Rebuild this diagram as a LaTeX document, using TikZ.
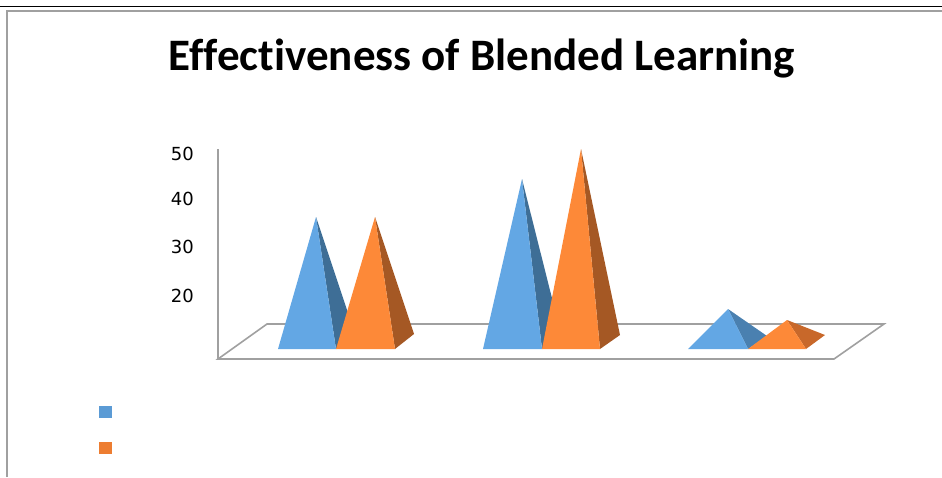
\documentclass[tikz,border=0pt]{standalone}
\usepackage{fontspec}
\setmainfont[Ligatures=NoCommon]{Carlito}
\newfontfamily\axisfont{DejaVu Sans}
\usetikzlibrary{positioning}

\definecolor{blueFront}{HTML}{63A7E4}
\definecolor{blueSide}{HTML}{3E6E96}
\definecolor{blueSideLow}{HTML}{4A80B0}
\definecolor{orangeFront}{HTML}{FD8938}
\definecolor{orangeSide}{HTML}{A55824}
\definecolor{orangeSideLow}{HTML}{C8682A}
\definecolor{legendBlue}{HTML}{5B9BD5}
\definecolor{legendOrange}{HTML}{ED7D31}
\definecolor{axisGray}{HTML}{A0A0A0}

\begin{document}
\begin{tikzpicture}[
        x=1pt,
        y=-1pt,
        frame/.style={
                draw=axisGray,
                line width=1.2pt
            },
        floor/.style={
                draw=axisGray,
                line width=1.6pt,
                line join=miter
            },
        tick/.style={
                font=\axisfont\fontsize{18}{18}\selectfont,
                anchor=east,
                inner sep=0pt
            },
        title/.style={
                font=\bfseries\fontsize{45}{48}\selectfont,
                anchor=base,
                inner sep=0pt
            },
        key/.style={
                rectangle,
                minimum width=13pt,
                minimum height=12pt,
                inner sep=0pt
            }
    ]
    \useasboundingbox (0,0) rectangle (942,477);
    \draw[black, line width=1pt] (0,6) -- (942,6);
    \draw[frame] (7,477) -- (7,11) -- (942,11);

    \node[title] (chartTitle) at (482,70) {Effectiveness of Blended Learning};

    \coordinate (axisTop) at (218,149);
    \coordinate (floorFrontLeft) at (218,359);
    \coordinate (floorBackLeft) at (267,324);
    \coordinate (floorBackRight) at (884,324);
    \coordinate (floorFrontRight) at (834,359);
    \draw[floor] (axisTop) -- (floorFrontLeft);
    \draw[floor] (floorFrontLeft) -- (floorFrontRight) -- (floorBackRight) -- (floorBackLeft) -- cycle;

    \node[tick] (tickFifty) at (194,154) {50};
    \node[tick] (tickForty) at (194,199) {40};
    \node[tick] (tickThirty) at (194,247) {30};
    \node[tick] (tickTwenty) at (194,296) {20};

    \fill[blueSide] (316,217) -- (336,349) -- (355,334) -- cycle;
    \fill[blueFront] (316,217) -- (278,349) -- (336,349) -- cycle;
    \fill[orangeSide] (375,217) -- (395,349) -- (414,334) -- cycle;
    \fill[orangeFront] (375,217) -- (336,349) -- (395,349) -- cycle;

    \fill[blueSide] (522,179) -- (542,349) -- (561,334) -- cycle;
    \fill[blueFront] (522,179) -- (483,349) -- (542,349) -- cycle;
    \fill[orangeSide] (581,149) -- (600,349) -- (620,335) -- cycle;
    \fill[orangeFront] (581,149) -- (542,349) -- (600,349) -- cycle;

    \fill[blueSideLow] (728,309) -- (748,349) -- (767,336) -- cycle;
    \fill[blueFront] (728,309) -- (688,349) -- (748,349) -- cycle;
    \fill[orangeSideLow] (787,320) -- (806,349) -- (825,335) -- cycle;
    \fill[orangeFront] (787,320) -- (748,349) -- (806,349) -- cycle;

    \node[key, fill=legendBlue] (keyBlue) at (105.5,412) {};
    \node[key, fill=legendOrange] (keyOrange) [below=24pt of keyBlue] {};
\end{tikzpicture}
\end{document}
